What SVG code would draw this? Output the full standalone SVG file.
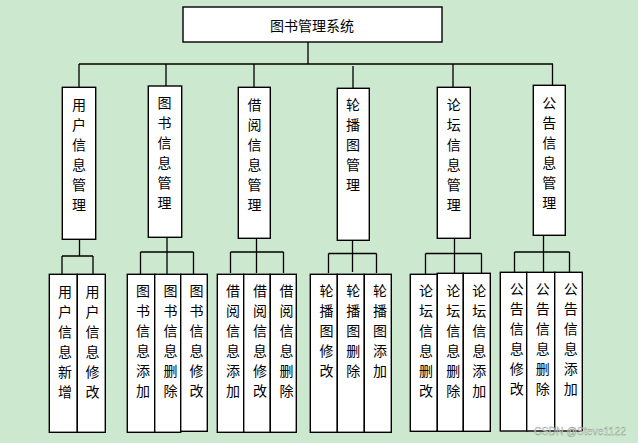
<svg xmlns="http://www.w3.org/2000/svg" width="638" height="443" viewBox="0 0 638 443">
<style>
.bx{fill:#fff;stroke:#000;stroke-width:1.4}
.ln{fill:none;stroke:#000;stroke-width:1.3}
text{font-family:"Noto Sans CJK SC","Noto Sans",sans-serif;font-size:14px;fill:#000;text-anchor:middle;dominant-baseline:central}
.wm{font-family:"Liberation Sans",sans-serif;font-size:11px;fill:#f4f8f4;fill-opacity:0.8;stroke:#8e9a8e;stroke-width:0.4;text-anchor:start}
</style>
<rect width="638" height="443" fill="#CCE8CF"/>
<g id="connectors">
<path class="ln" d="M308,42V64M79,64H553M79,64V87M166,64V86M254,64V87M353,66V88M453,64V87M552.5,64V85"/>
<path class="ln" d="M79.5,239V256M62,256H93M62,256V274M93,256V274"/>
<path class="ln" d="M167,237V252M140.5,252H193.5M140.5,252V274M167,252V274M193.5,252V274"/>
<path class="ln" d="M256.5,238V252M230.5,252H283.5M230.5,252V273M256.5,252V273M283.5,252V273"/>
<path class="ln" d="M352.5,240V272M328.5,253.5H376.5M328.5,253.5V273M376.5,253.5V273"/>
<path class="ln" d="M454.5,238V253.5M425.5,253.5H481.5M425.5,253.5V274M454.5,253.5V273M481.5,253.5V273"/>
<path class="ln" d="M543.5,235V252M514.5,252H569.5M514.5,252V272M543.5,252V272M569.5,252V272"/>
</g>
<g id="root"><rect class="bx" x="183" y="7" width="259" height="35"/><text x="312" y="24.5">图书管理系统</text></g>
<g id="n1"><rect class="bx" x="62.3" y="87.3" width="33.4" height="152"/><text x="79"><tspan x="79" y="103.5">用</tspan><tspan x="79" dy="20">户</tspan><tspan x="79" dy="20">信</tspan><tspan x="79" dy="20">息</tspan><tspan x="79" dy="20">管</tspan><tspan x="79" dy="20">理</tspan></text></g>
<g id="n2"><rect class="bx" x="148.3" y="86" width="33.4" height="151.3"/><text><tspan x="164.5" y="102">图</tspan><tspan x="164.5" dy="20">书</tspan><tspan x="164.5" dy="20">信</tspan><tspan x="164.5" dy="20">息</tspan><tspan x="164.5" dy="20">管</tspan><tspan x="164.5" dy="20">理</tspan></text></g>
<g id="n3"><rect class="bx" x="238.3" y="87.3" width="32" height="151"/><text><tspan x="254.5" y="103.5">借</tspan><tspan x="254.5" dy="20">阅</tspan><tspan x="254.5" dy="20">信</tspan><tspan x="254.5" dy="20">息</tspan><tspan x="254.5" dy="20">管</tspan><tspan x="254.5" dy="20">理</tspan></text></g>
<g id="n4"><rect class="bx" x="337.3" y="88.3" width="32" height="152"/><text><tspan x="353" y="104">轮</tspan><tspan x="353" dy="20">播</tspan><tspan x="353" dy="20">图</tspan><tspan x="353" dy="20">管</tspan><tspan x="353" dy="20">理</tspan></text></g>
<g id="n5"><rect class="bx" x="437.3" y="87.3" width="33" height="151"/><text><tspan x="453.7" y="103.5">论</tspan><tspan x="453.7" dy="20">坛</tspan><tspan x="453.7" dy="20">信</tspan><tspan x="453.7" dy="20">息</tspan><tspan x="453.7" dy="20">管</tspan><tspan x="453.7" dy="20">理</tspan></text></g>
<g id="n6"><rect class="bx" x="533.3" y="85.3" width="32" height="150"/><text><tspan x="549.3" y="101.7">公</tspan><tspan x="549.3" dy="20">告</tspan><tspan x="549.3" dy="20">信</tspan><tspan x="549.3" dy="20">息</tspan><tspan x="549.3" dy="20">管</tspan><tspan x="549.3" dy="20">理</tspan></text></g>
<g id="n1a"><rect class="bx" x="49.3" y="274.3" width="28" height="158"/><text><tspan x="65" y="290.5">用</tspan><tspan x="65" dy="20">户</tspan><tspan x="65" dy="20">信</tspan><tspan x="65" dy="20">息</tspan><tspan x="65" dy="20">新</tspan><tspan x="65" dy="20">增</tspan></text></g>
<g id="n1b"><rect class="bx" x="77.3" y="274.3" width="28" height="158"/><text><tspan x="92.5" y="290.5">用</tspan><tspan x="92.5" dy="20">户</tspan><tspan x="92.5" dy="20">信</tspan><tspan x="92.5" dy="20">息</tspan><tspan x="92.5" dy="20">修</tspan><tspan x="92.5" dy="20">改</tspan></text></g>
<g id="n2a"><rect class="bx" x="127.3" y="274.3" width="27.4" height="158"/><text><tspan x="143" y="290">图</tspan><tspan x="143" dy="20">书</tspan><tspan x="143" dy="20">信</tspan><tspan x="143" dy="20">息</tspan><tspan x="143" dy="20">添</tspan><tspan x="143" dy="20">加</tspan></text></g>
<g id="n2b"><rect class="bx" x="154.7" y="274.3" width="26" height="158"/><text><tspan x="170.5" y="290">图</tspan><tspan x="170.5" dy="20">书</tspan><tspan x="170.5" dy="20">信</tspan><tspan x="170.5" dy="20">息</tspan><tspan x="170.5" dy="20">删</tspan><tspan x="170.5" dy="20">除</tspan></text></g>
<g id="n2c"><rect class="bx" x="180.7" y="274.3" width="26.6" height="157"/><text><tspan x="196.5" y="290">图</tspan><tspan x="196.5" dy="20">书</tspan><tspan x="196.5" dy="20">信</tspan><tspan x="196.5" dy="20">息</tspan><tspan x="196.5" dy="20">修</tspan><tspan x="196.5" dy="20">改</tspan></text></g>
<g id="n3a"><rect class="bx" x="217.3" y="274.3" width="26.4" height="158"/><text><tspan x="233" y="290">借</tspan><tspan x="233" dy="20">阅</tspan><tspan x="233" dy="20">信</tspan><tspan x="233" dy="20">息</tspan><tspan x="233" dy="20">添</tspan><tspan x="233" dy="20">加</tspan></text></g>
<g id="n3b"><rect class="bx" x="243.7" y="274.3" width="26.6" height="158"/><text><tspan x="260" y="290">借</tspan><tspan x="260" dy="20">阅</tspan><tspan x="260" dy="20">信</tspan><tspan x="260" dy="20">息</tspan><tspan x="260" dy="20">修</tspan><tspan x="260" dy="20">改</tspan></text></g>
<g id="n3c"><rect class="bx" x="270.3" y="274.3" width="26" height="158"/><text><tspan x="286.5" y="290">借</tspan><tspan x="286.5" dy="20">阅</tspan><tspan x="286.5" dy="20">信</tspan><tspan x="286.5" dy="20">息</tspan><tspan x="286.5" dy="20">删</tspan><tspan x="286.5" dy="20">除</tspan></text></g>
<g id="n4a"><rect class="bx" x="310.3" y="274.3" width="27" height="158"/><text><tspan x="326.5" y="290">轮</tspan><tspan x="326.5" dy="20">播</tspan><tspan x="326.5" dy="20">图</tspan><tspan x="326.5" dy="20">修</tspan><tspan x="326.5" dy="20">改</tspan></text></g>
<g id="n4b"><rect class="bx" x="337.3" y="274.3" width="27" height="158"/><text><tspan x="353.3" y="290">轮</tspan><tspan x="353.3" dy="20">播</tspan><tspan x="353.3" dy="20">图</tspan><tspan x="353.3" dy="20">删</tspan><tspan x="353.3" dy="20">除</tspan></text></g>
<g id="n4c"><rect class="bx" x="364.3" y="274.3" width="27" height="158"/><text><tspan x="380" y="290">轮</tspan><tspan x="380" dy="20">播</tspan><tspan x="380" dy="20">图</tspan><tspan x="380" dy="20">添</tspan><tspan x="380" dy="20">加</tspan></text></g>
<g id="n5a"><rect class="bx" x="410.3" y="274.3" width="27" height="157"/><text><tspan x="426" y="290">论</tspan><tspan x="426" dy="20">坛</tspan><tspan x="426" dy="20">信</tspan><tspan x="426" dy="20">息</tspan><tspan x="426" dy="20">删</tspan><tspan x="426" dy="20">改</tspan></text></g>
<g id="n5b"><rect class="bx" x="437.3" y="273.3" width="26" height="158"/><text><tspan x="453.3" y="290">论</tspan><tspan x="453.3" dy="20">坛</tspan><tspan x="453.3" dy="20">信</tspan><tspan x="453.3" dy="20">息</tspan><tspan x="453.3" dy="20">删</tspan><tspan x="453.3" dy="20">除</tspan></text></g>
<g id="n5c"><rect class="bx" x="463.3" y="273.3" width="27" height="158"/><text><tspan x="479.3" y="290">论</tspan><tspan x="479.3" dy="20">坛</tspan><tspan x="479.3" dy="20">信</tspan><tspan x="479.3" dy="20">息</tspan><tspan x="479.3" dy="20">添</tspan><tspan x="479.3" dy="20">加</tspan></text></g>
<g id="n6a"><rect class="bx" x="500.3" y="272.3" width="26.4" height="158.7"/><text><tspan x="516.7" y="288.3">公</tspan><tspan x="516.7" dy="20">告</tspan><tspan x="516.7" dy="20">信</tspan><tspan x="516.7" dy="20">息</tspan><tspan x="516.7" dy="20">修</tspan><tspan x="516.7" dy="20">改</tspan></text></g>
<g id="n6b"><rect class="bx" x="526.7" y="272.3" width="28" height="158.7"/><text><tspan x="542.7" y="288.3">公</tspan><tspan x="542.7" dy="20">告</tspan><tspan x="542.7" dy="20">信</tspan><tspan x="542.7" dy="20">息</tspan><tspan x="542.7" dy="20">删</tspan><tspan x="542.7" dy="20">除</tspan></text></g>
<g id="n6c"><rect class="bx" x="554.7" y="272.3" width="27.6" height="158.7"/><text><tspan x="570.7" y="288.3">公</tspan><tspan x="570.7" dy="20">告</tspan><tspan x="570.7" dy="20">信</tspan><tspan x="570.7" dy="20">息</tspan><tspan x="570.7" dy="20">添</tspan><tspan x="570.7" dy="20">加</tspan></text></g>
<text class="wm" x="534" y="431" textLength="92" lengthAdjust="spacingAndGlyphs">CSDN @Steve1122</text>
</svg>
